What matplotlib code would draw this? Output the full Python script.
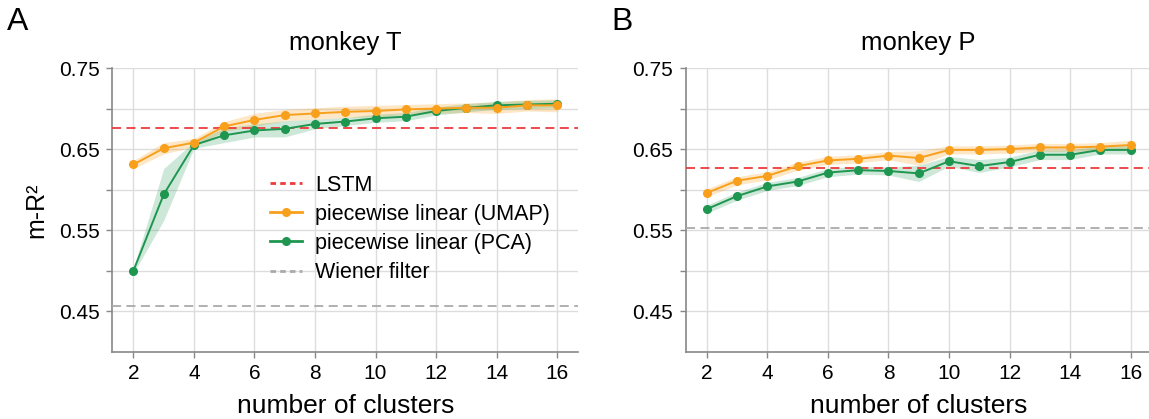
import matplotlib
matplotlib.use("Agg")
import matplotlib.pyplot as plt
import numpy as np

plt.rcParams['font.family'] = ['Liberation Sans', 'DejaVu Sans']

clusters = list(range(2, 17))

# monkey T
t_umap = [0.631, 0.651, 0.658, 0.678, 0.686, 0.692, 0.694, 0.696, 0.697, 0.699, 0.700, 0.701, 0.701, 0.704, 0.704]
t_umap_err = [0.005, 0.007, 0.005, 0.006, 0.008, 0.007, 0.007, 0.007, 0.007, 0.006, 0.006, 0.006, 0.007, 0.007, 0.008]
t_pca = [0.500, 0.594, 0.655, 0.667, 0.673, 0.675, 0.681, 0.684, 0.688, 0.690, 0.697, 0.701, 0.704, 0.705, 0.706]
t_pca_err = [0.003, 0.032, 0.004, 0.009, 0.008, 0.010, 0.006, 0.005, 0.005, 0.005, 0.005, 0.005, 0.005, 0.005, 0.005]
t_lstm = 0.676
t_wiener = 0.457

# monkey P
p_umap = [0.596, 0.611, 0.617, 0.629, 0.636, 0.638, 0.642, 0.639, 0.649, 0.649, 0.650, 0.652, 0.652, 0.653, 0.655]
p_umap_err = [0.005, 0.005, 0.005, 0.005, 0.005, 0.005, 0.005, 0.009, 0.005, 0.005, 0.005, 0.005, 0.005, 0.005, 0.006]
p_pca = [0.576, 0.592, 0.604, 0.610, 0.621, 0.624, 0.623, 0.620, 0.635, 0.629, 0.634, 0.643, 0.643, 0.649, 0.649]
p_pca_err = [0.005, 0.005, 0.005, 0.005, 0.005, 0.005, 0.005, 0.010, 0.006, 0.008, 0.006, 0.006, 0.006, 0.005, 0.005]
p_lstm = 0.627
p_wiener = 0.553

titles = ["monkey T", "monkey P"]
panel_letters = ["A", "B"]
xticks = [2, 4, 6, 8, 10, 12, 14, 16]
yticks = [0.45, 0.50, 0.55, 0.60, 0.65, 0.70, 0.75]
ytick_labels = ["0.45", "", "0.55", "", "0.65", "", "0.75"]

ORANGE = '#f8a01c'
GREEN = '#1e9650'
RED = '#ee3b3b'
GRAY = '#aaaaaa'

fig = plt.figure(figsize=(11.49, 4.19), dpi=100)
ax_pos = [[0.0977, 0.1606, 0.4056, 0.677], [0.5968, 0.1606, 0.4056, 0.677]]

data = [
    (t_umap, t_umap_err, t_pca, t_pca_err, t_lstm, t_wiener),
    (p_umap, p_umap_err, p_pca, p_pca_err, p_lstm, p_wiener),
]

x = np.array(clusters)
for i, (umap, umap_err, pca, pca_err, lstm, wiener) in enumerate(data):
    ax = fig.add_axes(ax_pos[i])
    umap = np.array(umap); umap_err = np.array(umap_err)
    pca = np.array(pca); pca_err = np.array(pca_err)
    ax.axhline(lstm, color=RED, ls=(0, (5, 3)), lw=1.3, zorder=3)
    ax.axhline(wiener, color=GRAY, ls=(0, (5, 3)), lw=1.3, zorder=3)
    ax.fill_between(x, umap - umap_err, umap + umap_err, color=ORANGE, alpha=0.25, lw=0, zorder=2)
    ax.fill_between(x, pca - pca_err, pca + pca_err, color=GREEN, alpha=0.22, lw=0, zorder=2)
    ax.plot(x, pca, color=GREEN, marker='o', ms=5.5, lw=1.4, zorder=4)
    ax.plot(x, umap, color=ORANGE, marker='o', ms=5.5, lw=1.4, zorder=5)

    ax.set_xlim(1.3, 16.7)
    ax.set_ylim(0.40, 0.75)
    ax.set_xticks(xticks)
    ax.set_xticklabels([str(v) for v in xticks])
    ax.set_yticks(yticks)
    ax.set_yticklabels(ytick_labels)
    ax.grid(True, color='#dddddd', lw=1.0, zorder=0)
    ax.set_axisbelow(True)
    for s in ['top', 'right']:
        ax.spines[s].set_visible(False)
    for s in ['left', 'bottom']:
        ax.spines[s].set_color('#888888')
        ax.spines[s].set_linewidth(1.2)
    ax.tick_params(axis='both', direction='out', length=4, width=1, color='#888888',
                   labelsize=15, pad=5)
    ax.set_xlabel("number of clusters", fontsize=19, labelpad=8)
    ax.set_title(titles[i], fontsize=18.5, pad=13)
    if i == 0:
        ax.set_ylabel("m-R²", fontsize=18, labelpad=8)
        handles = [
            plt.Line2D([], [], color=RED, ls=(0, (2, 1.5)), lw=2),
            plt.Line2D([], [], color=ORANGE, marker='o', ms=5.5, lw=2),
            plt.Line2D([], [], color=GREEN, marker='o', ms=5.5, lw=2),
            plt.Line2D([], [], color=GRAY, ls=(0, (2, 1.5)), lw=2),
        ]
        labels = ['LSTM', 'piecewise linear (UMAP)', 'piecewise linear (PCA)', 'Wiener filter']
        ax.legend(handles, labels, loc='upper left',
                  bbox_to_anchor=(0.32, 0.655), frameon=False, fontsize=15.5,
                  handlelength=1.5, handletextpad=0.6, labelspacing=0.38,
                  borderaxespad=0)

fig.text(0.006, 0.928, panel_letters[0], fontsize=23, va='baseline')
fig.text(0.532, 0.928, panel_letters[1], fontsize=23, va='baseline')

fig.savefig("out.png", dpi=100)
